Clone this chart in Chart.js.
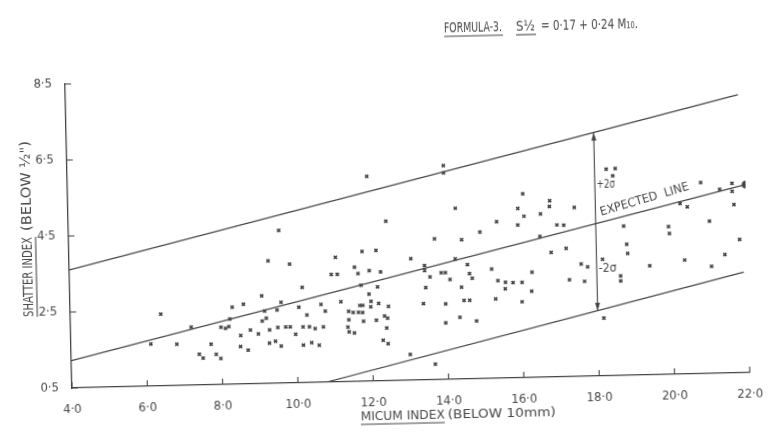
<!DOCTYPE html>
<html>
<head>
<meta charset="utf-8">
<script src="https://cdn.jsdelivr.net/npm/chart.js@4.4.1/dist/chart.umd.min.js"></script>
<style>
  html, body { margin: 0; padding: 0; background: #fff; }
  #wrap { position: relative; width: 769px; height: 437px; overflow: hidden; background: #fff; }
  /* the scanned sheet sits slightly askew */
  #chart { transform: rotate(-1.3deg); transform-origin: 72px 388px; }
</style>
</head>
<body>
<div id="wrap"><canvas id="chart" width="769" height="437"></canvas></div>
<script>
// axes
const xTicks = [4, 6, 8, 10, 12, 14, 16, 18, 20, 22];
const xTickLabels = ['4·0', '6·0', '8·0', '10·0', '12·0', '14·0', '16·0', '18·0', '20·0', '22·0'];
const yTicks = [0.5, 2.5, 4.5, 6.5, 8.5];
const yTickLabels = ['0·5', '2·5', '4·5', '6·5', '8·5'];

// observations: micum index (below 10mm) vs shatter index
const micumIndex = [
  11.95, 12.43, 9.58, 9.28, 9.85, 11.07, 11.78, 12.15, 11.57, 11.66, 11.96, 12.26, 10.95, 11.11,
  10.17, 11.73, 12.17, 11.94, 9.09, 8.30, 8.60, 6.40, 9.60, 10.07, 10.66, 11.19, 11.69, 11.77,
  11.99, 11.98, 12.19, 12.45, 9.16, 9.49, 10.77, 10.28, 11.39, 11.51, 11.65, 11.76, 12.34, 12.42,
  11.39, 11.78, 12.12, 8.23, 9.09, 9.20, 7.20, 7.99, 8.11, 8.20, 8.51, 8.77, 8.98, 9.28,
  9.50, 9.71, 9.83, 9.97, 10.17, 10.34, 10.49, 10.71, 11.36, 11.39, 11.53, 12.39, 6.12, 6.81,
  7.72, 8.50, 8.70, 9.27, 9.43, 9.58, 10.17, 10.39, 10.59, 12.29, 12.42, 7.40, 7.50, 7.85, 7.97,
  13.99, 13.99, 14.28, 16.08, 15.94, 16.10, 16.54, 16.79, 16.78, 17.44, 15.37, 15.93, 14.92, 16.97,
  17.15, 13.71, 14.43, 16.51, 13.07, 13.43, 13.43, 14.25, 14.57, 16.80, 17.20, 13.57, 13.87, 13.98,
  14.10, 14.62, 14.69, 15.21, 15.37, 15.57, 15.77, 16.01, 15.56, 16.28, 17.59, 17.76, 17.27, 17.67,
  13.45, 14.40, 16.26, 13.38, 13.97, 14.46, 14.61, 15.30, 16.00, 13.96, 14.34, 14.78, 13.00, 13.66,
  18.31, 18.55, 18.48, 18.16, 18.63, 18.63, 18.74, 18.81, 18.83, 18.16, 19.41, 19.93, 19.95, 20.25,
  20.44, 20.81, 21.02, 20.34, 21.05, 21.41, 21.81, 21.31, 21.64, 21.64, 21.68
];
const shatterIndex = [
  5.89, 4.70, 4.52, 3.73, 3.63, 3.78, 3.92, 3.94, 3.51, 3.34, 3.41, 3.37, 3.33, 3.33,
  3.01, 3.03, 2.98, 2.79, 2.81, 2.53, 2.60, 2.39, 2.63, 2.49, 2.55, 2.61, 2.50, 2.50,
  2.60, 2.46, 2.54, 2.46, 2.41, 2.43, 2.37, 2.28, 2.35, 2.32, 2.32, 2.31, 2.21, 2.15,
  2.13, 2.08, 2.10, 2.22, 2.15, 2.22, 2.03, 2.01, 1.98, 2.02, 1.78, 1.92, 1.81, 1.91,
  1.97, 1.98, 1.98, 1.78, 1.97, 1.97, 1.92, 1.96, 1.94, 1.81, 1.78, 1.89, 1.61, 1.59,
  1.57, 1.49, 1.39, 1.56, 1.61, 1.48, 1.49, 1.55, 1.48, 1.57, 1.48, 1.31, 1.21, 1.30, 1.19,
  6.13, 5.94, 5.00, 5.34, 4.96, 4.75, 4.80, 5.14, 4.99, 4.95, 4.62, 4.52, 4.36, 4.50,
  4.49, 4.21, 4.17, 4.21, 3.70, 3.51, 3.38, 3.67, 3.51, 3.78, 3.88, 3.21, 3.31, 3.31,
  3.13, 3.27, 3.15, 3.38, 3.07, 3.02, 3.01, 3.01, 2.85, 3.27, 3.46, 3.38, 3.05, 3.00,
  2.93, 2.92, 2.77, 2.51, 2.49, 2.57, 2.57, 2.59, 2.50, 1.99, 2.13, 2.02, 1.18, 0.91,
  5.94, 5.95, 5.76, 3.57, 3.12, 2.99, 4.43, 3.95, 3.71, 2.02, 3.37, 4.39, 4.21, 4.99,
  4.90, 5.53, 4.51, 3.50, 3.32, 3.62, 4.01, 5.34, 5.49, 5.28, 4.93
];

// expected line and the +/- 2 sigma band, as drawn
const expectedX = [4, 22];
const expectedY = [1.22, 5.45];
const upperX = [4, 21.85];
const upperY = [3.61, 7.82];
const lowerX = [10.75, 21.9];
const lowerY = [0.5, 3.15];
const arrowX = [18, 18];
const arrowY = [2.22, 6.91];

const ink = '#444';
const textInk = '#484848';
const hand = '"DejaVu Sans Condensed", "Liberation Sans Narrow", sans-serif';

const pts = (xs, ys) => xs.map((x, i) => ({ x: x, y: ys[i] }));

function lineSet(xs, ys, extra) {
  return Object.assign({
    data: pts(xs, ys),
    showLine: true,
    borderColor: ink,
    borderWidth: 1.2,
    pointRadius: 0,
    fill: false
  }, extra || {});
}

// squeeze text into the width the hand lettering takes
function fitText(ctx, text, x, y, w) {
  const m = ctx.measureText(text).width;
  ctx.save();
  ctx.translate(x, y);
  ctx.scale(w / m, 1);
  ctx.fillText(text, 0, 0);
  ctx.restore();
}

function underline(ctx, x1, x2, y) {
  ctx.beginPath();
  ctx.moveTo(x1, y);
  ctx.lineTo(x2, y);
  ctx.stroke();
}

const decorations = {
  id: 'decorations',
  afterDraw(chart) {
    const { ctx, chartArea: a, scales: { x, y } } = chart;
    ctx.save();
    ctx.strokeStyle = ink;
    ctx.fillStyle = ink;
    ctx.lineWidth = 1.1;

    // inward tick marks
    ctx.beginPath();
    xTicks.forEach(v => {
      const p = x.getPixelForValue(v);
      ctx.moveTo(p, a.bottom);
      ctx.lineTo(p, a.bottom - 6);
    });
    yTicks.forEach(v => {
      const p = y.getPixelForValue(v);
      ctx.moveTo(a.left, p);
      ctx.lineTo(a.left + 6, p);
    });
    ctx.stroke();

    // arrow heads on the 2 sigma bar
    const ax = x.getPixelForValue(arrowX[0]);
    const top = y.getPixelForValue(arrowY[1]);
    const bot = y.getPixelForValue(arrowY[0]);
    ctx.beginPath();
    ctx.moveTo(ax, top); ctx.lineTo(ax - 2.5, top + 8); ctx.lineTo(ax + 2.5, top + 8); ctx.closePath();
    ctx.moveTo(ax, bot); ctx.lineTo(ax - 2.5, bot - 8); ctx.lineTo(ax + 2.5, bot - 8); ctx.closePath();
    ctx.fill();

    ctx.fillStyle = textInk;
    ctx.strokeStyle = textInk;
    ctx.textBaseline = 'alphabetic';
    ctx.textAlign = 'left';

    // +2σ / -2σ
    ctx.font = '13px ' + hand;
    fitText(ctx, '+2σ', ax + 2, y.getPixelForValue(5.45), 18);
    fitText(ctx, '-2σ', ax + 2, y.getPixelForValue(3.25), 18);

    // label along the expected line
    const ex1 = x.getPixelForValue(expectedX[0]), ey1 = y.getPixelForValue(expectedY[0]);
    const ex2 = x.getPixelForValue(expectedX[1]), ey2 = y.getPixelForValue(expectedY[1]);
    const ang = Math.atan2(ey2 - ey1, ex2 - ex1) - 0.03;
    ctx.save();
    ctx.translate(x.getPixelForValue(18.15), y.getPixelForValue(4.72));
    ctx.rotate(ang);
    ctx.font = '12px ' + hand;
    fitText(ctx, 'EXPECTED  LINE', 0, 0, 92);
    ctx.restore();

    // heading
    ctx.lineWidth = 1.1;
    ctx.font = '14px ' + hand;
    fitText(ctx, 'FORMULA-3.', 452, 41, 58);
    underline(ctx, 452, 511, 45);
    fitText(ctx, 'S½', 524, 41, 19);
    underline(ctx, 524, 544, 45);
    fitText(ctx, '= 0·17 + 0·24 M₁₀.', 549, 41, 97);

    // x axis title
    ctx.font = '13px ' + hand;
    fitText(ctx, 'MICUM INDEX', 360, 427, 84);
    underline(ctx, 360, 444, 431);
    fitText(ctx, '(BELOW 10mm)', 447, 427, 108);

    // y axis title
    ctx.save();
    ctx.translate(35, 227);
    ctx.rotate(-Math.PI / 2);
    ctx.font = '14px ' + hand;
    fitText(ctx, 'SHATTER INDEX', -89, 0, 80);
    underline(ctx, -89, -9, 4);
    fitText(ctx, '(BELOW ½")', -3, 0, 90);
    ctx.restore();

    ctx.restore();
  }
};

new Chart(document.getElementById('chart'), {
  type: 'scatter',
  data: {
    datasets: [
      {
        data: pts(micumIndex, shatterIndex),
        pointStyle: 'crossRot',
        pointRadius: 2.2,
        borderColor: ink,
        borderWidth: 1.6,
        backgroundColor: ink
      },
      lineSet(upperX, upperY),
      lineSet(expectedX, expectedY, { pointRadius: [0, 3.2], pointBackgroundColor: ink, pointBorderColor: ink }),
      lineSet(lowerX, lowerY),
      lineSet(arrowX, arrowY, { borderWidth: 1.1 })
    ]
  },
  options: {
    responsive: false,
    animation: false,
    layout: { padding: { top: 84, right: 16, left: 0, bottom: 0 } },
    plugins: { legend: { display: false }, tooltip: { enabled: false } },
    scales: {
      x: {
        type: 'linear',
        min: 4,
        max: 22,
        afterBuildTicks: s => { s.ticks = xTicks.map(v => ({ value: v })); },
        afterFit: s => { s.height = 49; },
        grid: { display: false },
        border: { display: true, color: ink, width: 1.3 },
        ticks: {
          color: textInk,
          font: { family: hand, size: 13 },
          padding: 6,
          maxRotation: 0,
          callback: v => xTickLabels[xTicks.indexOf(v)]
        }
      },
      y: {
        type: 'linear',
        min: 0.5,
        max: 8.5,
        afterBuildTicks: s => { s.ticks = yTicks.map(v => ({ value: v })); },
        afterFit: s => { s.width = 72; },
        grid: { display: false },
        border: { display: true, color: ink, width: 1.3 },
        ticks: {
          color: textInk,
          font: { family: hand, size: 13 },
          padding: 5,
          callback: v => yTickLabels[yTicks.indexOf(v)]
        }
      }
    }
  },
  plugins: [decorations]
});
</script>
</body>
</html>
